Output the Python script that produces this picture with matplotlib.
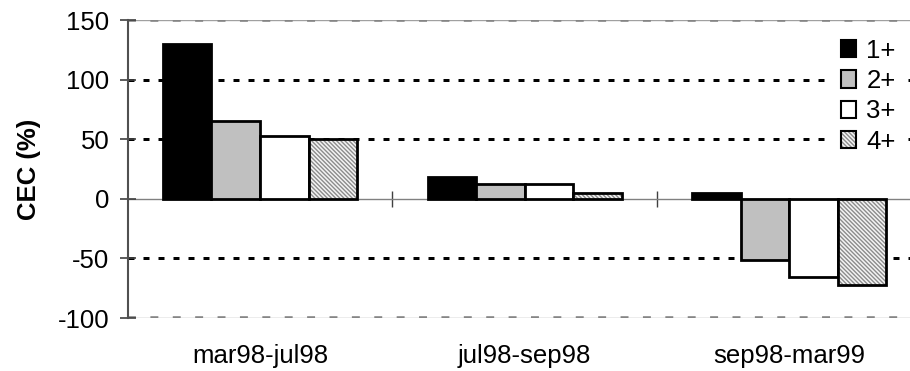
import matplotlib
matplotlib.use("Agg")
import matplotlib.pyplot as plt
from matplotlib.patches import Patch
import numpy as np

plt.rcParams['font.family'] = ['Liberation Sans', 'DejaVu Sans']
plt.rcParams['hatch.linewidth'] = 1.0

periods = ["mar98-jul98", "jul98-sep98", "sep98-mar99"]
series_labels = ["1+", "2+", "3+", "4+"]
cec_1 = [130, 18, 5]
cec_2 = [65, 12.5, -51]
cec_3 = [53, 12, -66]
cec_4 = [50, 5, -72]

FS = 18.5
fig = plt.figure(figsize=(9.10, 3.71), dpi=100)
ax = fig.add_axes([128/910, 1-318/371, 1-128/910, (318-20)/371])

x = np.arange(len(periods))
w = 0.1834
offsets = (np.arange(4) - 1.5) * w
ymin, ymax = -100, 150

# Reference gridlines
for yv in (100, 50, -50):
    ax.axhline(yv, color='black', lw=2.16, dashes=(2, 3), zorder=1)
for yv in (ymax, ymin):
    ax.axhline(yv, color='#a0a0a0', lw=1.0, zorder=1)
    ax.axhline(yv, color='#858585', lw=2.6, dashes=(2.2, 4), zorder=1)

hatch = '\\\\\\\\\\\\\\\\'
ax.bar(x + offsets[0], cec_1, w, color='black', edgecolor='black', lw=2, zorder=3)
ax.bar(x + offsets[1], cec_2, w, color='#c0c0c0', edgecolor='black', lw=2, zorder=3)
ax.bar(x + offsets[2], cec_3, w, color='white', edgecolor='black', lw=2, zorder=3)
ax.bar(x + offsets[3], cec_4, w, color='#f4f4f4', edgecolor='#8c8c8c', lw=0,
       hatch=hatch, zorder=3)
ax.bar(x + offsets[3], cec_4, w, fill=False, edgecolor='black', lw=2, zorder=4)

handles = [
    Patch(facecolor='black', edgecolor='black', lw=1.5),
    Patch(facecolor='#c0c0c0', edgecolor='black', lw=1.5),
    Patch(facecolor='white', edgecolor='black', lw=1.5),
    (Patch(facecolor='#f4f4f4', edgecolor='#8c8c8c', hatch=hatch, lw=0),
     Patch(fill=False, edgecolor='black', lw=1.5)),
]

ax.set_xlim(-0.499, 2.457)
ax.set_ylim(ymin, ymax)
ax.set_yticks([-100, -50, 0, 50, 100, 150])
ax.set_yticklabels(['-100', '-50', '0', '50', '100', '150'])
ax.tick_params(axis='y', direction='inout', length=11, width=1.2, color='#404040',
               labelsize=FS, pad=8)
ax.set_xticks(x)
ax.set_xticklabels(periods)
ax.tick_params(axis='x', length=0, labelsize=FS, pad=19)
for s in ('top', 'right', 'bottom'):
    ax.spines[s].set_visible(False)
ax.spines['left'].set_color('#505050')
ax.spines['left'].set_linewidth(1.5)
ax.set_ylabel('CEC (%)', fontsize=FS, fontweight='bold', labelpad=12)

# zero line with category separators
zax = ax.secondary_xaxis((0 - ymin) / (ymax - ymin))
zax.set_xticks([0.5, 1.5])
zax.set_xticklabels(['', ''])
zax.tick_params(direction='inout', length=12, width=1, color='#404040')
zax.spines['bottom'].set_color('#808080')
zax.spines['bottom'].set_linewidth(1)

leg = ax.legend(handles, series_labels, loc='upper right', bbox_to_anchor=(1.0, 0.985),
                fontsize=FS, frameon=True, fancybox=False, framealpha=1,
                edgecolor='white', facecolor='white', handlelength=0.6,
                handleheight=0.65, handletextpad=0.4, labelspacing=0.25,
                borderpad=0.35, borderaxespad=0.2)
leg.set_zorder(5)

fig.savefig('out.png', dpi=100)
